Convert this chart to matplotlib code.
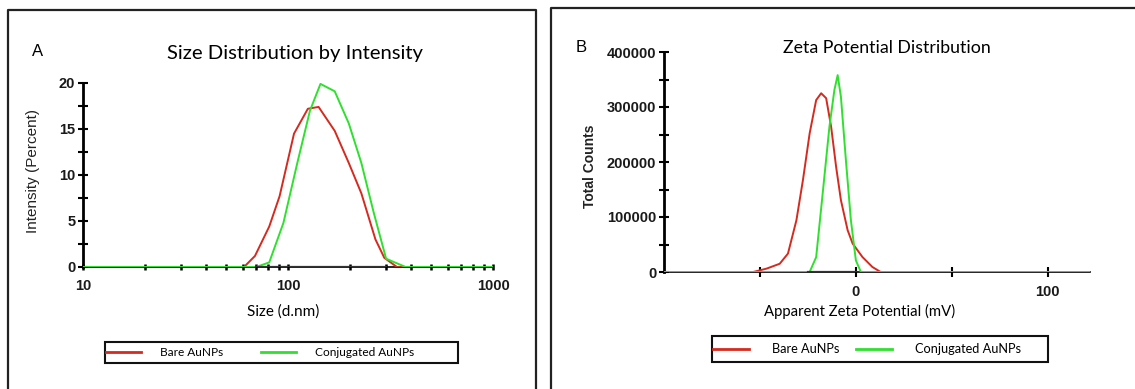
import numpy as np
import matplotlib
matplotlib.use("Agg")
import matplotlib.pyplot as plt
from matplotlib.lines import Line2D
from matplotlib.patches import Rectangle

W, H = 1135, 389

# Panel A: size distribution by intensity (size in d.nm, intensity in %)
size_bare = [10, 61, 69, 81, 91, 107, 125, 141, 169, 198, 228, 267, 295, 340, 1000]
int_bare = [0, 0, 1.2, 4.4, 7.7, 14.5, 17.2, 17.4, 14.8, 11.3, 8.0, 3.0, 1.0, 0, 0]
size_conj = [10, 70, 81, 95, 111, 128, 144, 169, 198, 228, 262, 301, 375, 1000]
int_conj = [0, 0, 0.5, 4.8, 11.3, 17.0, 19.9, 19.1, 15.6, 11.3, 5.9, 0.9, 0, 0]
size_marker = [70, 300]

# Panel B: zeta potential distribution (mV, total counts)
zeta_bare = [-100, -53.5, -46.5, -39.7, -35.4, -31.0, -27.6, -24.1, -20.7, -18.1,
             -15.5, -12.9, -10.3, -7.8, -4.3, -1.7, 3.4, 8.6, 12.9, 122]
counts_bare = [0, 0, 6200, 15000, 33500, 94000, 167000, 252000, 312600, 325000,
               316000, 264000, 191000, 130500, 76000, 51700, 27300, 9100, 0, 0]
zeta_conj = [-100, -24.1, -20.7, -17.3, -13.8, -11.2, -9.5, -7.8, -5.2, -2.6, 0, 2.6, 122]
counts_conj = [0, 0, 27000, 143000, 264000, 331000, 358000, 318600, 203000, 94000,
               21000, 0, 0]
zeta_marker = [-25, 0]

LABELS = ["Bare AuNPs", "Conjugated AuNPs"]
RED = "#d52a1f"
GREEN = "#2fe02f"

TICK_FONT = ["Liberation Sans", "DejaVu Sans"]
TEXT_FONT = ["Lato", "DejaVu Sans"]


def fx(px):
    return px / W


def fy(py):
    return 1 - py / H


def box(x0, y0, x1, y1):
    return [fx(x0), fy(y1), fx(x1) - fx(x0), fy(y0) - fy(y1)]


def style_axis(ax):
    for s in ["top", "right"]:
        ax.spines[s].set_visible(False)
    ax.spines["left"].set_linewidth(2)
    ax.spines["bottom"].set_linewidth(1.2)
    for t in ax.get_xticklabels() + ax.get_yticklabels():
        t.set_fontfamily(TICK_FONT)
        t.set_fontweight("bold")
        t.set_fontsize(10.5)
        t.set_color("#1a1a1a")


fig = plt.figure(figsize=(W / 100, H / 100), dpi=100)

# panel frames
for xs, ys in [([8, 8, 536, 536], [400, 10, 10, 400]),
               ([551, 551, 1140], [400, 8, 8])]:
    fig.add_artist(Line2D([fx(v) for v in xs], [fy(v) for v in ys],
                          color="#222222", lw=1.6, transform=fig.transFigure))

# ---------- Panel A ----------
axA = fig.add_axes(box(83, 83, 493, 267))
axA.plot(size_bare, int_bare, color=RED, lw=1.4, label=LABELS[0], zorder=3)
axA.plot(size_conj, int_conj, color=GREEN, lw=1.4, label=LABELS[1], zorder=4)
axA.plot(size_marker, [0, 0], color="#333333", lw=1.6, zorder=5)
axA.set_xscale("log")
axA.set_xlim(10, 1000)
axA.set_ylim(0, 20)
axA.set_yticks([0, 5, 10, 15, 20])
axA.set_yticks(np.arange(0, 20, 2.5), minor=True)
axA.set_xticks([10, 100, 1000])
axA.set_xticklabels(["10", "100", "1000"])
axA.tick_params(axis="y", which="both", direction="inout", length=7, width=1.5, pad=2)
axA.tick_params(axis="x", which="both", direction="inout", length=4, width=1.8, pad=7)
style_axis(axA)

fig.text(fx(38), fy(52), "A", fontsize=12, family=TICK_FONT, ha="center", va="center")
fig.text(fx(295), fy(53), "Size Distribution by Intensity", fontsize=14.6,
         family=TEXT_FONT, ha="center", va="center")
fig.text(fx(283), fy(312), "Size (d.nm)", fontsize=11, family=TEXT_FONT,
         ha="center", va="center")
fig.text(fx(33), fy(171), "Intensity (Percent)", fontsize=11, family=TICK_FONT,
         rotation=90, ha="center", va="center", color="#222222")

# ---------- Panel B ----------
axB = fig.add_axes(box(664, 52, 1090, 272))
axB.plot(zeta_bare, counts_bare, color=RED, lw=1.4, label=LABELS[0], zorder=3)
axB.plot(zeta_conj, counts_conj, color=GREEN, lw=1.4, label=LABELS[1], zorder=4)
axB.plot(zeta_marker, [0, 0], color="#333333", lw=1.6, zorder=5)
axB.set_xlim(-100, 122)
axB.set_ylim(0, 400000)
axB.set_yticks(np.arange(0, 400001, 100000))
axB.set_yticks(np.arange(0, 400000, 50000), minor=True)
axB.set_xticks([-50, 0, 50, 100])
axB.set_xticklabels(["", "0", "", "100"])
axB.tick_params(axis="y", which="both", direction="inout", length=7, width=1.5, pad=2)
axB.tick_params(axis="x", which="both", direction="inout", length=7, width=1.5, pad=6)
style_axis(axB)

fig.text(fx(581), fy(47), "B", fontsize=12, family=TICK_FONT, ha="center", va="center")
fig.text(fx(887), fy(48), "Zeta Potential Distribution", fontsize=12.8,
         family=TEXT_FONT, ha="center", va="center")
fig.text(fx(860), fy(311), "Apparent Zeta Potential (mV)", fontsize=10.7,
         family=TEXT_FONT, ha="center", va="center")
fig.text(fx(590), fy(166), "Total Counts", fontsize=10, family=TICK_FONT,
         fontweight="bold", rotation=90, ha="center", va="center", color="#222222")

# ---------- legends (frame drawn separately so the box keeps its own size) ----------
legend_specs = [
    (axA, (105, 342, 458, 363), 8.6, 2.9, 1.6, 3.2),
    (axB, (712, 336, 1048, 362), 9.2, 2.8, 1.8, 1.3),
]
for ax, (x0, y0, x1, y1), fs, hl, htp, cs in legend_specs:
    fig.add_artist(Rectangle((fx(x0), fy(y1)), fx(x1) - fx(x0), fy(y0) - fy(y1),
                             transform=fig.transFigure, fill=False,
                             edgecolor="#111111", lw=1.5))
    h, l = ax.get_legend_handles_labels()
    leg = fig.legend(h, l, loc="center left", ncol=2,
                     bbox_to_anchor=(fx(x0 + 1), fy((y0 + y1) / 2)),
                     bbox_transform=fig.transFigure, frameon=False,
                     borderpad=0, borderaxespad=0, handlelength=hl,
                     handletextpad=htp, columnspacing=cs,
                     prop={"family": TEXT_FONT, "size": fs})
    for ln in leg.get_lines():
        ln.set_linewidth(2)

fig.savefig("out.png", dpi=100)
